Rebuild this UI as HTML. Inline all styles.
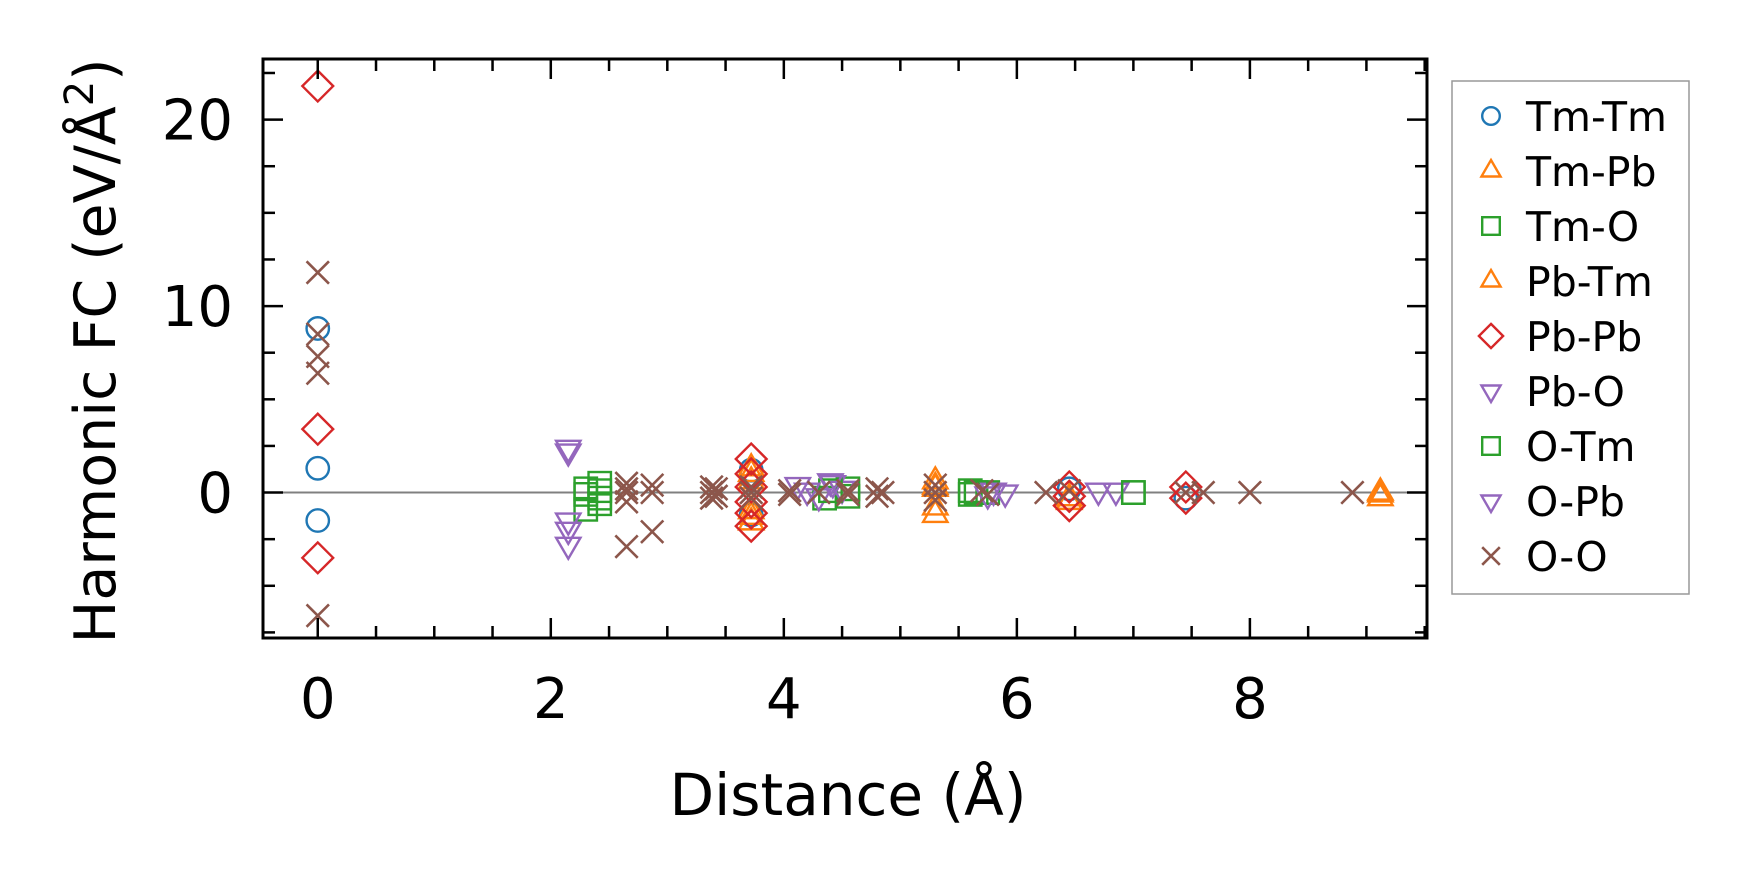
<!DOCTYPE html>
<html><head><meta charset="utf-8">
<style>
html,body{margin:0;padding:0;background:#fff;}
svg{display:block;font-family:"DejaVu Sans","Liberation Sans",sans-serif;}
</style></head>
<body>
<svg id="chart" width="1740" height="883" viewBox="0 0 1740 883">
<g id="plot"></g>
<g id="axes"></g>
<g id="legend"></g>
<text x="848" y="815" font-size="58" text-anchor="middle">Distance (Å)</text>
<text transform="translate(115,351) rotate(-90)" font-size="57" text-anchor="middle">Harmonic FC (eV/Å<tspan font-size="40" dy="-22">2</tspan><tspan dy="22">)</tspan></text>
</svg>
<script>
const xTicks=[0,2,4,6,8];
const yTicks=[0,10,20];
const seriesNames=["Tm-Tm","Tm-Pb","Tm-O","Pb-Tm","Pb-Pb","Pb-O","O-Tm","O-Pb","O-O"];
const seriesColors=["#1f77b4","#ff7f0e","#2ca02c","#ff7f0e","#d62728","#9467bd","#2ca02c","#9467bd","#8c564b"];
const seriesMarkers=["circle","tri-up","square","tri-up","diamond","tri-down","square","tri-down","x"];
const tmTmX=[0,0,0,3.72,3.72,6.45,7.45];
const tmTmY=[8.8,1.3,-1.5,1.2,-1.2,0.2,-0.3];
const tmPbX=[3.72,3.72,3.72,3.72,5.3,5.3,5.3,6.45,9.12,9.12];
const tmPbY=[1.3,0.6,-1.0,-1.6,0.6,-1.2,0.2,-0.5,0,-0.3];
const tmOX=[2.3,2.3,2.42,2.42,2.42,4.35,4.55,4.55,5.6,5.6,5.75,7.0];
const tmOY=[-0.1,-0.9,0.5,-0.6,0.1,-0.3,0.2,-0.2,0.1,-0.1,0,0];
const pbTmX=[3.72,3.72,5.3,5.3,6.45,9.12];
const pbTmY=[1.0,-1.3,0.3,-0.8,-0.3,-0.1];
const pbPbX=[0,0,0,3.72,3.72,3.72,3.72,3.72,3.72,6.45,6.45,6.45,7.45,7.45];
const pbPbY=[21.8,3.4,-3.5,1.8,1.0,0.3,-0.5,-1.1,-1.8,0.3,-0.2,-0.7,0.3,-0.3];
const pbOX=[2.15,2.15,2.15,4.12,4.3,4.42,4.5,5.8,5.9,6.7,6.85];
const pbOY=[2.2,-2.0,-2.8,0.4,-0.2,0.5,0.2,0.1,0,0.1,0.1];
const oTmX=[2.3,2.42,4.4,5.65,7.0];
const oTmY=[0.2,-0.3,0.1,0,0];
const oPbX=[2.15,2.15,4.2,4.4,5.75];
const oPbY=[2.4,-1.5,0.1,0.6,-0.1];
const oOX=[0,0,0,0,0,2.65,2.65,2.65,2.65,2.65,2.87,2.87,2.87,3.38,3.38,3.38,3.42,3.42,3.72,3.72,3.72,4.05,4.05,4.3,4.55,4.55,4.8,4.8,4.85,5.3,5.3,5.3,5.7,5.75,6.25,6.45,7.45,7.6,8.0,8.88];
const oOY=[11.8,8.5,7.3,6.4,-6.6,0.5,0,-0.5,0.2,-2.9,0.4,0,-2.1,0.3,-0.3,0,0.2,-0.2,0.3,-0.3,0,0.1,-0.1,0,0.1,-0.1,0.2,-0.2,0,0.4,-0.4,0,0.1,-0.1,0,0.1,0,0,0,0];
const seriesX=[tmTmX,tmPbX,tmOX,pbTmX,pbPbX,pbOX,oTmX,oPbX,oOX];
const seriesY=[tmTmY,tmPbY,tmOY,pbTmY,pbPbY,pbOY,oTmY,oPbY,oOY];

const L=263,R=1427,T=59,B=638;
const xMin=-0.47,xMax=9.52,yMin=-7.8,yMax=23.25;
function sx(v){return L+(v-xMin)/(xMax-xMin)*(R-L);}
function sy(v){return B-(v-yMin)/(yMax-yMin)*(B-T);}
const NS="http://www.w3.org/2000/svg";
function mk(tag,attrs,parent){const e=document.createElementNS(NS,tag);for(const k in attrs)e.setAttribute(k,attrs[k]);parent.appendChild(e);return e;}
function marker(type,cx,cy,col,parent,s){
  let e;
  if(type==="circle"){e=mk("circle",{cx:cx,cy:cy,r:s*0.8,fill:"none",stroke:col,"stroke-width":2.4},parent);}
  else if(type==="square"){e=mk("rect",{x:cx-s*0.8,y:cy-s*0.8,width:s*1.6,height:s*1.6,fill:"none",stroke:col,"stroke-width":2.4},parent);}
  else if(type==="diamond"){e=mk("polygon",{points:`${cx},${cy-s*1.1} ${cx+s*1.1},${cy} ${cx},${cy+s*1.1} ${cx-s*1.1},${cy}`,fill:"none",stroke:col,"stroke-width":2.4},parent);}
  else if(type==="tri-up"){e=mk("polygon",{points:`${cx},${cy-s} ${cx+s*0.87},${cy+s*0.5} ${cx-s*0.87},${cy+s*0.5}`,fill:"none",stroke:col,"stroke-width":2.4},parent);}
  else if(type==="tri-down"){e=mk("polygon",{points:`${cx},${cy+s} ${cx+s*0.87},${cy-s*0.5} ${cx-s*0.87},${cy-s*0.5}`,fill:"none",stroke:col,"stroke-width":2.4},parent);}
  else {e=mk("path",{d:`M${cx-s*0.8},${cy-s*0.8}L${cx+s*0.8},${cy+s*0.8}M${cx-s*0.8},${cy+s*0.8}L${cx+s*0.8},${cy-s*0.8}`,stroke:col,"stroke-width":2.6,fill:"none"},parent);}
  return e;
}
const plot=document.getElementById("plot"),axes=document.getElementById("axes"),leg=document.getElementById("legend");
const zl=mk("line",{x1:L,x2:R,y1:sy(0),y2:sy(0),stroke:"#808080","stroke-width":2},plot);


for(let s=0;s<seriesNames.length;s++){
  const g=mk("g",{},plot);
  
  
  for(let i=0;i<seriesX[s].length;i++){
    const m=marker(seriesMarkers[s],sx(seriesX[s][i]),sy(seriesY[s][i]),seriesColors[s],g,14);
    
    
  }
}
const fr=mk("rect",{x:L,y:T,width:R-L,height:B-T,fill:"none",stroke:"#000","stroke-width":3},axes);


for(let v=0;v<=9.5;v+=0.5){
  const major=Math.abs(v%2)<1e-6, len=major?20:12;
  mk("line",{x1:sx(v),x2:sx(v),y1:B,y2:B-len,stroke:"#000","stroke-width":2.5},axes);
  mk("line",{x1:sx(v),x2:sx(v),y1:T,y2:T+len,stroke:"#000","stroke-width":2.5},axes);
}
for(const t of xTicks){
  const e=mk("text",{x:sx(t),y:718,"font-size":56,"text-anchor":"middle"},axes);e.textContent=t;
  
  
}
for(let v=-7.5;v<=22.5;v+=2.5){
  const major=Math.abs(v%10)<1e-6, len=major?20:12;
  mk("line",{x1:L,x2:L+len,y1:sy(v),y2:sy(v),stroke:"#000","stroke-width":2.5},axes);
  mk("line",{x1:R,x2:R-len,y1:sy(v),y2:sy(v),stroke:"#000","stroke-width":2.5},axes);
}
for(const t of yTicks){
  const e=mk("text",{x:233,y:sy(t)+20,"font-size":56,"text-anchor":"end"},axes);e.textContent=t;
  
  
}
const lb=mk("rect",{x:1452,y:81,width:237,height:513,fill:"#fff",stroke:"#999","stroke-width":1.5},leg);


for(let s=0;s<seriesNames.length;s++){
  const y=116+s*55;
  const g=mk("g",{},leg);
  
  
  marker(seriesMarkers[s],1491,y,seriesColors[s],g,11);
  const t=mk("text",{x:1526,y:y+15,"font-size":41},g);t.textContent=seriesNames[s];
}
</script>
</body></html>
